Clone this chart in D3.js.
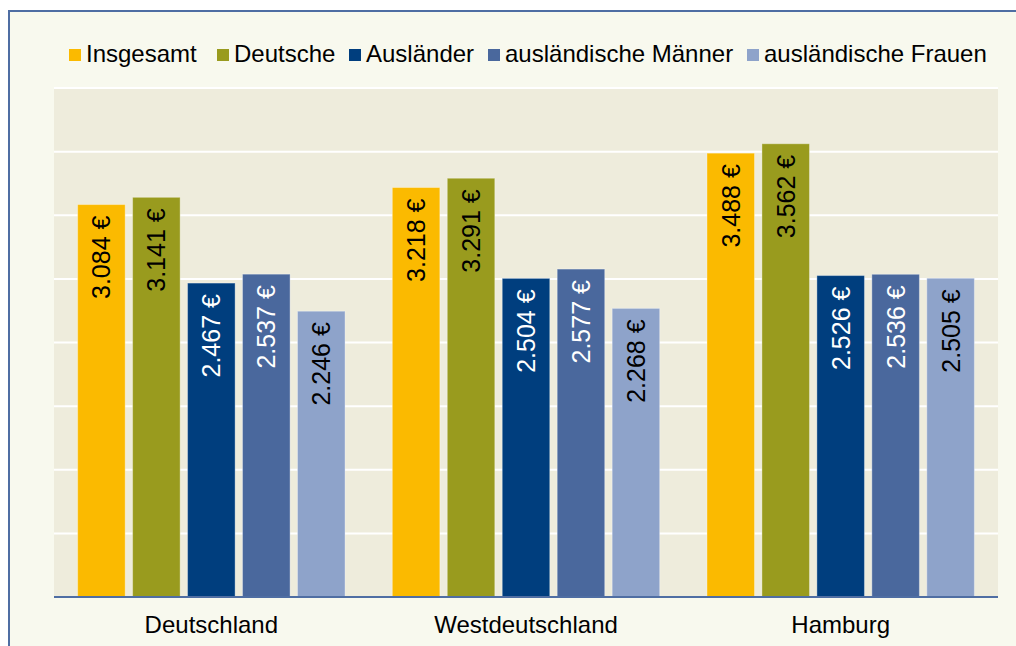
<!DOCTYPE html>
<html>
<head>
<meta charset="utf-8">
<script src="https://cdn.jsdelivr.net/npm/d3@7"></script>
<style>
  html, body { margin: 0; padding: 0; background: #fff; overflow: hidden; }
  svg { display: block; font-family: "Liberation Sans", Arial, sans-serif; }
</style>
</head>
<body>
<div id="chart"></div>
<script>
const width = 1016;
const height = 646;

// Data (monthly gross pay in €)
const regions = ["Deutschland", "Westdeutschland", "Hamburg"];
const series = ["Insgesamt", "Deutsche", "Ausländer", "ausländische Männer", "ausländische Frauen"];
const insgesamt = [3084, 3218, 3488];
const deutsche = [3141, 3291, 3562];
const auslaender = [2467, 2504, 2526];
const auslMaenner = [2537, 2577, 2536];
const auslFrauen = [2246, 2268, 2505];
const yTicks = [0, 500, 1000, 1500, 2000, 2500, 3000, 3500, 4000];

const seriesValues = [insgesamt, deutsche, auslaender, auslMaenner, auslFrauen];
const colors = ["#fbba00", "#999b1e", "#003e7e", "#4a689d", "#8ea3ca"];
const labelColors = ["#000", "#000", "#fff", "#fff", "#000"];

// layout
const plot = { left: 54, right: 998, top: 88, bottom: 597 };
const legendX = [69, 217, 349, 488, 747];

const svg = d3.select('#chart')
  .append('svg')
  .attr('width', width)
  .attr('height', height);

// outer frame: fill, then top and left edges (the rest is off-screen)
svg.append('rect')
  .attr('x', 8).attr('y', 11)
  .attr('width', width - 8).attr('height', height - 11)
  .attr('fill', '#f8f9ee');

svg.append('line')
  .attr('x1', 8).attr('x2', width)
  .attr('y1', 11).attr('y2', 11)
  .attr('stroke', '#4f6ea3')
  .attr('stroke-width', 2);

svg.append('line')
  .attr('x1', 9).attr('x2', 9)
  .attr('y1', 10).attr('y2', height)
  .attr('stroke', '#4f6ea3')
  .attr('stroke-width', 2);

// plot background
svg.append('rect')
  .attr('x', plot.left).attr('y', plot.top)
  .attr('width', plot.right - plot.left)
  .attr('height', plot.bottom - plot.top)
  .attr('fill', '#eeecdc');

// scales
const x0 = d3.scaleBand()
  .domain(regions)
  .range([plot.left, plot.right])
  .padding(0);

const x1 = d3.scaleBand()
  .domain(series)
  .range([0, x0.bandwidth()])
  .paddingInner(0.135)
  .paddingOuter(0.43);

const y = d3.scaleLinear()
  .domain([0, 4000])
  .range([plot.bottom, plot.top]);

// gridlines
svg.append('g')
  .selectAll('line')
  .data(yTicks.filter(d => d > 0))
  .join('line')
    .attr('x1', plot.left)
    .attr('x2', plot.right)
    .attr('y1', d => y(d))
    .attr('y2', d => y(d))
    .attr('stroke', '#fff')
    .attr('stroke-width', 2);

// rows: one per region/series
const rows = [];
regions.forEach((r, i) => {
  series.forEach((s, j) => {
    rows.push({ region: r, series: s, idx: j, value: seriesValues[j][i] });
  });
});

const bars = svg.append('g')
  .selectAll('g')
  .data(rows)
  .join('g')
    .attr('transform', d => `translate(${x0(d.region) + x1(d.series)},0)`);

bars.append('rect')
  .attr('x', 0)
  .attr('y', d => y(d.value))
  .attr('width', x1.bandwidth())
  .attr('height', d => y(0) - y(d.value))
  .attr('fill', d => colors[d.idx])
  .attr('stroke', 'rgba(255,255,255,0.35)')
  .attr('stroke-width', 1);

// value labels, rotated, anchored near bar top
bars.append('text')
  .attr('transform', d => `translate(${x1.bandwidth() / 2},${y(d.value) + 11}) rotate(-90)`)
  .attr('text-anchor', 'end')
  .attr('dy', '0.36em')
  .attr('font-size', 25)
  .attr('fill', d => labelColors[d.idx])
  .text(d => d3.format(',')(d.value).replace(',', '.') + ' €');

// x axis
svg.append('line')
  .attr('x1', plot.left).attr('x2', plot.right)
  .attr('y1', plot.bottom).attr('y2', plot.bottom)
  .attr('stroke', '#4f6ea3')
  .attr('stroke-width', 2);

svg.append('g')
  .selectAll('text')
  .data(regions)
  .join('text')
    .attr('x', d => x0(d) + x0.bandwidth() / 2)
    .attr('y', 633)
    .attr('text-anchor', 'middle')
    .attr('font-size', 24)
    .attr('fill', '#000')
    .text(d => d);

// legend
const legend = svg.append('g')
  .selectAll('g')
  .data(series)
  .join('g')
    .attr('transform', (d, i) => `translate(${legendX[i]},49)`);

legend.append('rect')
  .attr('width', 12)
  .attr('height', 12)
  .attr('fill', (d, i) => colors[i]);

legend.append('text')
  .attr('x', 17)
  .attr('y', 13)
  .attr('font-size', 24)
  .attr('fill', '#000')
  .text(d => d);
</script>
</body>
</html>
